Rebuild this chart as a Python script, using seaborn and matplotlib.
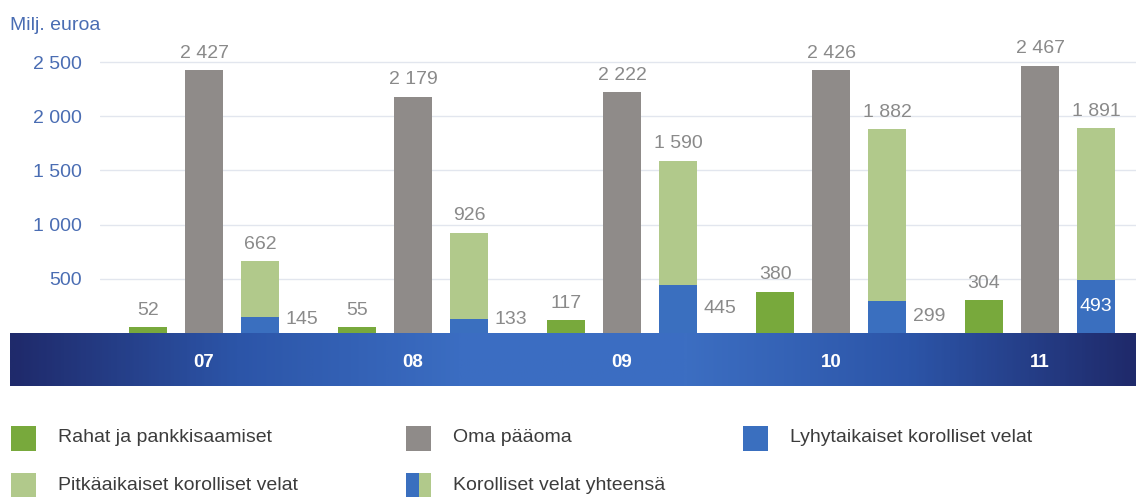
import numpy as np
import pandas as pd
import seaborn as sns
import matplotlib.pyplot as plt
from matplotlib.colors import LinearSegmentedColormap
from matplotlib.patches import Rectangle

# data (milj. euroa)
years = ["07", "08", "09", "10", "11"]
cash = [52, 55, 117, 380, 304]
equity = [2427, 2179, 2222, 2426, 2467]
total_debt = [662, 926, 1590, 1882, 1891]
short_debt = [145, 133, 445, 299, 493]
y_ticks = [500, 1000, 1500, 2000, 2500]

series = ["Rahat ja pankkisaamiset", "Oma pääoma", "Korolliset velat yhteensä"]

GREEN = "#78a93c"
GRAY = "#8f8b89"
LIGHT = "#b1c98b"
BLUE = "#3a6fbf"
AXIS_BLUE = "#4a6db3"
LABEL_GRAY = "#8a8a8a"


def fmt(v):
    return f"{v:,}".replace(",", " ")


sns.set_style("white")
plt.rcParams["font.family"] = ["Liberation Sans", "DejaVu Sans"]

df = pd.DataFrame({
    "year": years * 3,
    "value": cash + equity + total_debt,
    "series": [s for s in series for _ in years],
})

W, H = 1136, 497
fig = plt.figure(figsize=(W / 100, H / 100), dpi=100)

# dark-to-light-to-dark blue band behind the year labels
band = fig.add_axes([10 / W, 111 / H, 1126 / W, 53 / H])
cmap = LinearSegmentedColormap.from_list(
    "band", ["#1f2a6b", "#2c55a8", "#3b6dc2", "#3c6ec2", "#2c55a8", "#1f2a6b"])
band.imshow(np.linspace(0, 1, 400)[None, :], aspect="auto", cmap=cmap)
band.axis("off")
band.set_zorder(0)

ax = fig.add_axes([100 / W, 164 / H, 1036 / W, 303.5 / H])
ax.set_zorder(2)
ax.patch.set_alpha(0)

sns.barplot(data=df, x="year", y="value", hue="series", hue_order=series,
            palette=[GREEN, GRAY, LIGHT], saturation=1, width=0.804, gap=0.33,
            linewidth=0, legend=False, ax=ax)

# short-term part of interest-bearing debt stacked at the bottom of the total bar
debt_bars = ax.containers[2]
for i, (bar, v) in enumerate(zip(debt_bars, short_debt)):
    ax.bar(bar.get_x(), v, width=bar.get_width(), align="edge",
           color=BLUE, linewidth=0, zorder=3)
    xc = bar.get_x() + bar.get_width() / 2
    if i == len(short_debt) - 1:
        ax.text(xc, v / 2, fmt(v), ha="center", va="center",
                color="white", fontsize=14, zorder=4)
    else:
        ax.annotate(fmt(v), (bar.get_x() + bar.get_width(), max(v / 2, 120)),
                    xytext=(5, 0), textcoords="offset points",
                    ha="left", va="center", color=LABEL_GRAY, fontsize=14)

for cont, vals in zip(ax.containers[:3], [cash, equity, total_debt]):
    ax.bar_label(cont, labels=[fmt(v) for v in vals], padding=6,
                 color=LABEL_GRAY, fontsize=14)

ax.set_xlim(-0.498, 4.459)
ax.set_ylim(0, 2800)
ax.set_yticks(y_ticks)
ax.set_yticklabels([fmt(v) for v in y_ticks])
ax.yaxis.grid(True, color="#e2e6ee", linewidth=1)
ax.set_axisbelow(True)
ax.set_xlabel("")
ax.set_ylabel("")
sns.despine(ax=ax, left=True, bottom=True)
ax.tick_params(axis="y", length=0, pad=13, labelcolor=AXIS_BLUE, labelsize=14)
ax.tick_params(axis="x", length=0, pad=15, labelcolor="white", labelsize=13.5)
for lbl in ax.get_xticklabels():
    lbl.set_fontweight("bold")

fig.text(10 / W, 1 - 25 / H, "Milj. euroa", color=AXIS_BLUE, fontsize=14,
         va="center", ha="left")

# legend, laid out as in the reference (3 columns, 2 rows)
legend_items = [
    (11, 438, "Rahat ja pankkisaamiset", [GREEN]),
    (406, 438, "Oma pääoma", [GRAY]),
    (743, 438, "Lyhytaikaiset korolliset velat", [BLUE]),
    (11, 485, "Pitkäaikaiset korolliset velat", [LIGHT]),
    (406, 485, "Korolliset velat yhteensä", [BLUE, LIGHT]),
]
sq_w, sq_h = 25, 25
for x0, yc, name, cols in legend_items:
    part = sq_w / len(cols)
    for k, c in enumerate(cols):
        fig.patches.append(Rectangle(((x0 + k * part) / W, (H - yc - sq_h / 2) / H),
                                     part / W, sq_h / H, transform=fig.transFigure,
                                     facecolor=c, edgecolor="none"))
    fig.text((x0 + 47) / W, 1 - yc / H, name, color="#3c3c3c", fontsize=14,
             va="center", ha="left")

fig.savefig("out.png", dpi=100, facecolor="white")
